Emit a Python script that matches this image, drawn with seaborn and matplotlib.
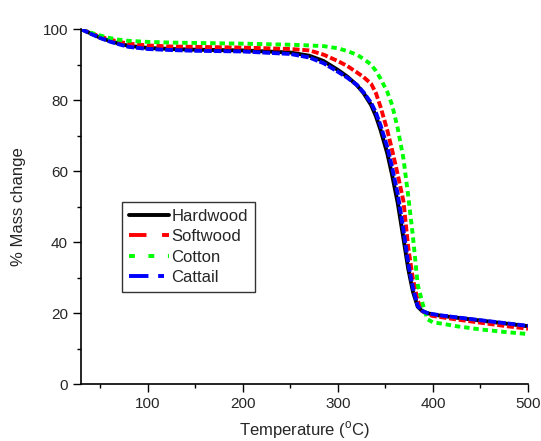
import numpy as np
import pandas as pd
import matplotlib
matplotlib.use('Agg')
import matplotlib.pyplot as plt
from matplotlib.ticker import MultipleLocator
import seaborn as sns

# Temperature grid (deg C) and mass readings for each fibre
temperature = [30, 40, 50, 60, 70, 80, 100, 125, 150, 200, 250, 270, 285, 300, 310,
               320, 327, 335, 340, 345, 352, 357, 363, 369, 374, 379, 384, 389, 394, 400,
               410, 425, 450, 475, 500]

hardwood = [100, 98.8, 97.6, 96.7, 95.9, 95.3, 94.7, 94.4, 94.2, 94.0, 93.4, 92.5, 91.0,
            88.5, 86.6, 84.2, 82.0, 78.6, 75.5, 71.5, 65.0, 59.0, 51.0, 41.0, 32.5, 26.0,
            21.8, 20.5, 20.0, 19.6, 19.2, 18.7, 17.9, 17.1, 16.3]
softwood = [100, 98.9, 97.9, 97.1, 96.4, 95.9, 95.4, 95.1, 95.0, 94.8, 94.4, 94.0, 92.8,
            91.0, 89.6, 87.8, 86.5, 84.6, 82.0, 78.0, 71.5, 66.0, 59.0, 51.5, 38.5, 29.5,
            23.5, 20.6, 19.6, 19.2, 18.8, 18.2, 17.3, 16.4, 15.6]
cotton = [100, 99.0, 98.2, 97.5, 97.0, 96.7, 96.4, 96.2, 96.1, 95.9, 95.6, 95.4, 95.2,
          94.6, 93.8, 92.8, 91.6, 90.0, 88.2, 86.0, 82.3, 78.7, 72.0, 63.5, 53.0, 41.5,
          28.0, 22.8, 18.3, 17.4, 17.0, 16.3, 15.4, 14.7, 14.1]
cattail = [100, 98.7, 97.5, 96.5, 95.7, 95.0, 94.4, 94.1, 93.9, 93.7, 93.0, 92.0, 90.4,
           88.0, 86.3, 84.3, 82.2, 79.2, 76.5, 72.8, 66.8, 61.1, 53.5, 43.4, 34.0, 27.0,
           22.0, 20.6, 20.0, 19.7, 19.3, 18.8, 18.0, 17.2, 16.4]

series = {'Hardwood': hardwood, 'Softwood': softwood, 'Cotton': cotton, 'Cattail': cattail}
colors = {'Hardwood': '#000000', 'Softwood': '#ff0000', 'Cotton': '#00ff00', 'Cattail': '#0000ff'}
# short gaps so the flat parts read nearly solid, like the original plot
dashes = {'Hardwood': '', 'Softwood': (1.8, 0.7), 'Cotton': (1.4, 1.0), 'Cattail': (2.0, 0.5)}
legend_dashes = {'Hardwood': (None, None), 'Softwood': (4.5, 4), 'Cotton': (1.5, 3.5),
                 'Cattail': (5, 2.5, 1.5, 2.5)}

df = pd.concat([pd.DataFrame({'Temperature': temperature, 'Mass': v, 'Sample': k})
                for k, v in series.items()], ignore_index=True)

sns.set_style('ticks')
plt.rcParams['font.family'] = ['Liberation Sans', 'DejaVu Sans']

fig = plt.figure(figsize=(5.41, 4.41), dpi=100)
ax = fig.add_axes([0.150, 0.129, 0.826, 0.805])

sns.lineplot(data=df, x='Temperature', y='Mass', hue='Sample', style='Sample',
             palette=colors, dashes=dashes, linewidth=2.8, ax=ax, legend=False)

ax.set_xlim(30, 500)
ax.set_ylim(0, 100)
ax.xaxis.set_major_locator(MultipleLocator(100))
ax.xaxis.set_minor_locator(MultipleLocator(50))
ax.yaxis.set_major_locator(MultipleLocator(20))
ax.yaxis.set_minor_locator(MultipleLocator(10))
ax.tick_params(which='major', direction='out', length=6, width=1, labelsize=11, color='black')
ax.tick_params(which='minor', direction='out', length=3, width=1, color='black')
for s in ['top', 'right']:
    ax.spines[s].set_visible(False)
for s in ['left', 'bottom']:
    ax.spines[s].set_linewidth(1.2)
    ax.spines[s].set_color('black')

ax.set_xlabel('Temperature ($^\\mathregular{o}$C)', fontsize=12, labelpad=6)
ax.set_ylabel('% Mass change', fontsize=12, labelpad=12)

handles = [plt.Line2D([], [], color=colors[k], lw=2.8, dashes=legend_dashes[k]) for k in series]
leg = ax.legend(handles, list(series), loc='upper left', bbox_to_anchor=(0.092, 0.513),
                fontsize=12, frameon=True, fancybox=False, handlelength=2.4,
                handletextpad=0.15, labelspacing=0.33, borderpad=0.4, borderaxespad=0)
leg.get_frame().set_edgecolor('black')
leg.get_frame().set_linewidth(1.0)

fig.savefig('out.png', dpi=100)
